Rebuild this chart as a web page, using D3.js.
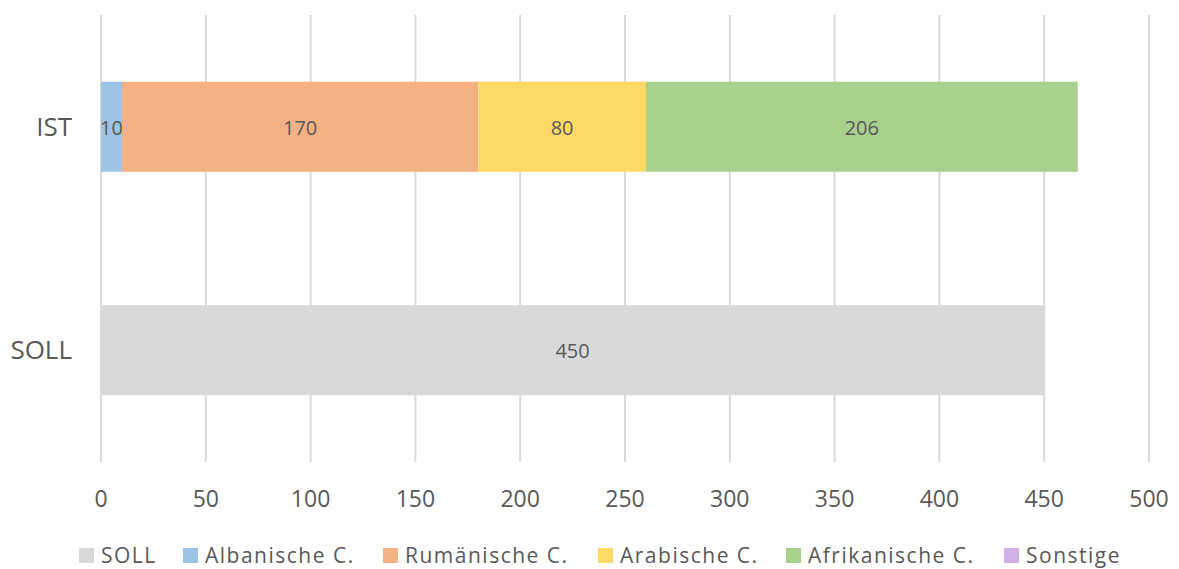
<!DOCTYPE html>
<html>
<head>
  <meta charset="utf-8">
  <title>SOLL / IST</title>
  <style>
    body { margin: 0; background: #fff; }
    svg text { font-family: "Open Sans", sans-serif; fill: #595959; }
  </style>
</head>
<body>
  <div id="chart"></div>
  <script src="https://cdn.jsdelivr.net/npm/d3@7"></script>
  <script type="text/javascript">
    var categories = ["IST", "SOLL"];
    var seriesNames = ["SOLL", "Albanische C.", "Rumänische C.", "Arabische C.", "Afrikanische C.", "Sonstige"];
    var sollValues = [0, 450];
    var albanischeValues = [10, 0];
    var rumaenischeValues = [170, 0];
    var arabischeValues = [80, 0];
    var afrikanischeValues = [206, 0];
    var sonstigeValues = [0, 0];
    var xTicks = [0, 50, 100, 150, 200, 250, 300, 350, 400, 450, 500];
    var colors = ["#d9d9d9", "#9dc3e6", "#f4b183", "#ffd966", "#a9d18e", "#d0aee6"];

    var w = 1179;
    var h = 569;

    var svg = d3.select("#chart")
      .append("svg")
      .attr("width", w)
      .attr("height", h);

    var allSeries = [sollValues, albanischeValues, rumaenischeValues, arabischeValues, afrikanischeValues, sonstigeValues];

    var table = categories.map(function(c, i) {
      var row = { cat: c };
      seriesNames.forEach(function(s, j) { row[s] = allSeries[j][i]; });
      return row;
    });

    var stacked = d3.stack().keys(seriesNames)(table);

    var x = d3.scaleLinear().domain([0, 500]).range([101, 1149]);
    var y = d3.scaleBand().domain(categories).range([15, 462])
      .paddingInner(0.597).paddingOuter(0.2985);

    // gridlines
    svg.selectAll("line.grid")
      .data(xTicks)
      .enter()
      .append("line")
      .attr("x1", function(d) { return x(d); })
      .attr("x2", function(d) { return x(d); })
      .attr("y1", 15)
      .attr("y2", 462)
      .attr("stroke", "#d9d9d9")
      .attr("stroke-width", 2);

    // x tick labels
    svg.selectAll("text.xt")
      .data(xTicks)
      .enter()
      .append("text")
      .attr("x", function(d) { return x(d); })
      .attr("y", 507)
      .attr("text-anchor", "middle")
      .style("font-size", "23px")
      .text(function(d) { return d; });

    // category labels
    svg.selectAll("text.cat")
      .data(categories)
      .enter()
      .append("text")
      .attr("x", 72)
      .attr("y", function(d) { return y(d) + y.bandwidth() / 2 + 9; })
      .attr("text-anchor", "end")
      .style("font-size", "26px")
      .text(function(d) { return d; });

    // bars
    var groups = svg.selectAll("g.series")
      .data(stacked)
      .enter()
      .append("g")
      .attr("fill", function(d, i) { return colors[i]; });

    groups.selectAll("rect")
      .data(function(d) { return d; })
      .enter()
      .filter(function(d) { return d[1] - d[0] > 0; })
      .append("rect")
      .attr("x", function(d) { return x(d[0]); })
      .attr("y", function(d) { return y(d.data.cat); })
      .attr("width", function(d) { return x(d[1]) - x(d[0]); })
      .attr("height", y.bandwidth());

    // data labels
    groups.selectAll("text")
      .data(function(d) { return d; })
      .enter()
      .filter(function(d) { return d[1] - d[0] > 0; })
      .append("text")
      .attr("x", function(d) { return (x(d[0]) + x(d[1])) / 2; })
      .attr("y", function(d) { return y(d.data.cat) + y.bandwidth() / 2 + 8; })
      .attr("text-anchor", "middle")
      .style("font-size", "20px")
      .text(function(d) { return d[1] - d[0]; });

    // legend
    var legendX = [79, 183, 383, 598, 786, 1004];
    var legend = svg.selectAll("g.legend")
      .data(seriesNames)
      .enter()
      .append("g")
      .attr("transform", function(d, i) { return "translate(" + legendX[i] + ",548)"; });

    legend.append("rect")
      .attr("width", 15)
      .attr("height", 15)
      .attr("fill", function(d, i) { return colors[i]; });

    legend.append("text")
      .attr("x", 22)
      .attr("y", 15)
      .style("font-size", "21px")
      .style("letter-spacing", "1.5px")
      .text(function(d) { return d; });
  </script>
</body>
</html>
